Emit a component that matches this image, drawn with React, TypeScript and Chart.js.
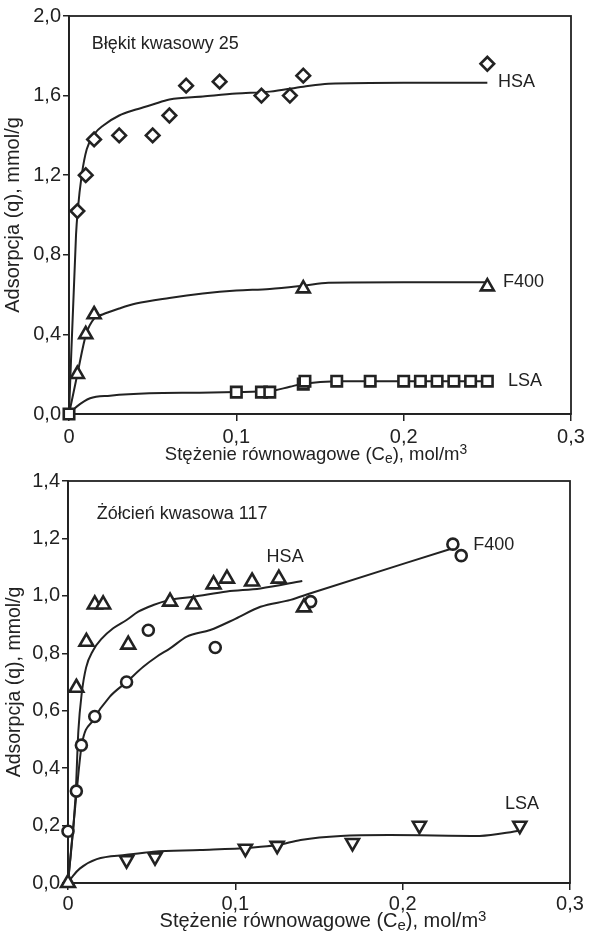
import React, { useEffect, useRef } from 'react';
import { Chart, registerables } from 'chart.js';

Chart.register(...registerables);

const FONT = "'Liberation Sans', Arial, Helvetica, sans-serif";
const INK = '#222222';

// ---------- shared axis ticks ----------
const xTickValues = [0, 0.1, 0.2, 0.3];
const xTickLabels = ['0', '0,1', '0,2', '0,3'];

// ---------- top panel: Błękit kwasowy 25 ----------
const blueYTickValues = [0, 0.4, 0.8, 1.2, 1.6, 2.0];
const blueYTickLabels = ['0,0', '0,4', '0,8', '1,2', '1,6', '2,0'];

const blueHsaX = [0.005, 0.010, 0.015, 0.030, 0.050, 0.060, 0.070, 0.090, 0.115, 0.132, 0.140, 0.250];
const blueHsaY = [1.02, 1.20, 1.38, 1.40, 1.40, 1.50, 1.65, 1.67, 1.60, 1.60, 1.70, 1.76];
const blueF400X = [0.005, 0.010, 0.015, 0.140, 0.250];
const blueF400Y = [0.20, 0.40, 0.50, 0.63, 0.64];
const blueLsaX = [0, 0.100, 0.115, 0.120, 0.140, 0.141, 0.160, 0.180, 0.200, 0.210, 0.220, 0.230, 0.240, 0.250];
const blueLsaY = [0, 0.11, 0.11, 0.11, 0.15, 0.165, 0.165, 0.165, 0.165, 0.165, 0.165, 0.165, 0.165, 0.165];

const blueHsaFitX = [0, 0.0042, 0.0052, 0.0076, 0.0106, 0.0155, 0.0205, 0.030, 0.040, 0.050, 0.060, 0.080, 0.100, 0.120, 0.140, 0.155, 0.200, 0.250];
const blueHsaFitY = [0, 0.90, 1.02, 1.20, 1.33, 1.41, 1.45, 1.50, 1.53, 1.555, 1.58, 1.595, 1.61, 1.62, 1.645, 1.66, 1.665, 1.665];
const blueF400FitX = [0, 0.005, 0.0102, 0.0151, 0.020, 0.030, 0.040, 0.060, 0.080, 0.100, 0.120, 0.140, 0.155, 0.200, 0.250];
const blueF400FitY = [0, 0.20, 0.40, 0.48, 0.50, 0.53, 0.555, 0.583, 0.605, 0.62, 0.628, 0.645, 0.66, 0.662, 0.662];
const blueLsaFitX = [0, 0.0046, 0.0126, 0.0245, 0.048, 0.078, 0.100, 0.120, 0.132, 0.140, 0.160, 0.200, 0.250];
const blueLsaFitY = [0, 0.037, 0.079, 0.092, 0.104, 0.107, 0.11, 0.115, 0.137, 0.152, 0.165, 0.165, 0.165];

// ---------- bottom panel: Żółcień kwasowa 117 ----------
const yellowYTickValues = [0, 0.2, 0.4, 0.6, 0.8, 1.0, 1.2, 1.4];
const yellowYTickLabels = ['0,0', '0,2', '0,4', '0,6', '0,8', '1,0', '1,2', '1,4'];

const yellowHsaX = [0, 0.005, 0.011, 0.016, 0.021, 0.036, 0.061, 0.075, 0.087, 0.095, 0.110, 0.126, 0.141];
const yellowHsaY = [0, 0.68, 0.84, 0.97, 0.97, 0.83, 0.98, 0.97, 1.04, 1.06, 1.05, 1.06, 0.96];
const yellowF400X = [0, 0.005, 0.008, 0.016, 0.035, 0.048, 0.088, 0.145, 0.230, 0.235];
const yellowF400Y = [0.18, 0.32, 0.48, 0.58, 0.70, 0.88, 0.82, 0.98, 1.18, 1.14];
const yellowLsaX = [0.035, 0.052, 0.106, 0.125, 0.170, 0.210, 0.270];
const yellowLsaY = [0.08, 0.09, 0.12, 0.13, 0.14, 0.20, 0.20];

const yellowHsaFitX = [0, 0.0045, 0.0062, 0.0082, 0.0108, 0.015, 0.020, 0.027, 0.035, 0.042, 0.051, 0.061, 0.075, 0.095, 0.115, 0.140];
const yellowHsaFitY = [0, 0.30, 0.53, 0.66, 0.75, 0.81, 0.85, 0.887, 0.916, 0.945, 0.968, 0.986, 0.997, 1.015, 1.026, 1.052];
const yellowF400FitX = [0, 0.0052, 0.0082, 0.0151, 0.025, 0.035, 0.045, 0.053, 0.061, 0.071, 0.085, 0.100, 0.115, 0.133, 0.145, 0.230];
const yellowF400FitY = [0, 0.32, 0.48, 0.568, 0.649, 0.70, 0.753, 0.788, 0.817, 0.858, 0.881, 0.92, 0.962, 0.986, 1.009, 1.166];
const yellowLsaFitX = [0, 0.003, 0.0072, 0.0172, 0.035, 0.051, 0.079, 0.109, 0.125, 0.139, 0.163, 0.192, 0.246, 0.270];
const yellowLsaFitY = [0, 0.025, 0.051, 0.083, 0.098, 0.109, 0.115, 0.123, 0.132, 0.150, 0.164, 0.167, 0.164, 0.182];

// ---------- texts ----------
const yTitle = 'Adsorpcja (q), mmol/g';
const xTitleParts = [
  { t: 'Stężenie równowagowe (C', scale: 1, shift: 0 },
  { t: 'e', scale: 0.75, shift: 0.17 },
  { t: '), mol/m', scale: 1, shift: 0 },
  { t: '3', scale: 0.75, shift: -0.3 },
];

type Note = { text: string; x: number; y: number };
const blueNotes: Note[] = [
  { text: 'Błękit kwasowy 25', x: 0.0136, y: 1.858 },
  { text: 'HSA', x: 0.2564, y: 1.666 },
  { text: 'F400', x: 0.2594, y: 0.661 },
  { text: 'LSA', x: 0.2624, y: 0.167 },
];
const yellowNotes: Note[] = [
  { text: 'Żółcień kwasowa 117', x: 0.0172, y: 1.284 },
  { text: 'HSA', x: 0.1187, y: 1.134 },
  { text: 'F400', x: 0.2422, y: 1.178 },
  { text: 'LSA', x: 0.2612, y: 0.275 },
];

const zip = (xs: number[], ys: number[]) => xs.map((x, i) => ({ x, y: ys[i] }));

type PanelSpec = {
  yMax: number;
  yTickValues: number[];
  yTickLabels: string[];
  fits: { xs: number[]; ys: number[] }[];
  points: { xs: number[]; ys: number[]; style: string; radius: number; rotation: number }[];
  notes: Note[];
  padTop: number;
  padRight: number;
  yAxisWidth: number;
  xAxisHeight: number;
  xTickPad: number;
  yTitleSize: number;
  yTitlePad: number;
  xTitleSize: number;
  xTitleDrop: number;
  xTitleShift: number;
};

const W = 589;
const H = 466;

const topSpec: PanelSpec = {
  yMax: 2.0,
  yTickValues: blueYTickValues,
  yTickLabels: blueYTickLabels,
  fits: [
    { xs: blueHsaFitX, ys: blueHsaFitY },
    { xs: blueF400FitX, ys: blueF400FitY },
    { xs: blueLsaFitX, ys: blueLsaFitY },
  ],
  points: [
    { xs: blueHsaX, ys: blueHsaY, style: 'rectRot', radius: 6.8, rotation: 0 },
    { xs: blueF400X, ys: blueF400Y, style: 'triangle', radius: 7.5, rotation: 0 },
    { xs: blueLsaX, ys: blueLsaY, style: 'rect', radius: 7.4, rotation: 0 },
  ],
  notes: blueNotes,
  padTop: 16,
  padRight: 18,
  yAxisWidth: 69,
  xAxisHeight: H - 414,
  xTickPad: 4,
  yTitleSize: 20,
  yTitlePad: 1,
  xTitleSize: 18.5,
  xTitleDrop: 46,
  xTitleShift: -4,
};

const bottomSpec: PanelSpec = {
  yMax: 1.4,
  yTickValues: yellowYTickValues,
  yTickLabels: yellowYTickLabels,
  fits: [
    { xs: yellowHsaFitX, ys: yellowHsaFitY },
    { xs: yellowF400FitX, ys: yellowF400FitY },
    { xs: yellowLsaFitX, ys: yellowLsaFitY },
  ],
  points: [
    { xs: yellowHsaX, ys: yellowHsaY, style: 'triangle', radius: 8, rotation: 0 },
    { xs: yellowF400X, ys: yellowF400Y, style: 'circle', radius: 5.5, rotation: 0 },
    { xs: yellowLsaX, ys: yellowLsaY, style: 'triangle', radius: 7.5, rotation: 180 },
  ],
  notes: yellowNotes,
  padTop: 15,
  padRight: 19,
  yAxisWidth: 68,
  xAxisHeight: H - 417,
  xTickPad: 2,
  yTitleSize: 19.5,
  yTitlePad: 3,
  xTitleSize: 20,
  xTitleDrop: 44,
  xTitleShift: 4,
};

function makeDecor(spec: PanelSpec) {
  return {
    id: 'decor',
    beforeDatasetsDraw(chart: any) {
      const { ctx, chartArea } = chart;
      ctx.save();
      ctx.strokeStyle = INK;
      ctx.lineWidth = 1.8;
      ctx.strokeRect(chartArea.left, chartArea.top, chartArea.right - chartArea.left, chartArea.bottom - chartArea.top);
      ctx.restore();
    },
    afterDraw(chart: any) {
      const { ctx, chartArea } = chart;
      const xs = chart.scales.x;
      const ys = chart.scales.y;
      ctx.save();
      ctx.fillStyle = INK;
      ctx.textAlign = 'left';
      ctx.textBaseline = 'middle';
      ctx.font = `18px ${FONT}`;
      for (const n of spec.notes) {
        ctx.fillText(n.text, xs.getPixelForValue(n.x), ys.getPixelForValue(n.y));
      }
      // x-axis title with subscript / superscript
      ctx.textBaseline = 'alphabetic';
      const base = spec.xTitleSize;
      let total = 0;
      const widths = xTitleParts.map((p) => {
        ctx.font = `${base * p.scale}px ${FONT}`;
        const w = ctx.measureText(p.t).width;
        total += w;
        return w;
      });
      let cx = (chartArea.left + chartArea.right) / 2 - total / 2 + spec.xTitleShift;
      const by = chartArea.bottom + spec.xTitleDrop;
      xTitleParts.forEach((p, i) => {
        ctx.font = `${base * p.scale}px ${FONT}`;
        ctx.fillText(p.t, cx, by + p.shift * base);
        cx += widths[i];
      });
      ctx.restore();
    },
  };
}

function buildConfig(spec: PanelSpec): any {
  const datasets: any[] = [];
  spec.points.forEach((p) => {
    datasets.push({
      type: 'scatter',
      data: zip(p.xs, p.ys),
      pointStyle: p.style,
      pointRadius: p.radius,
      pointRotation: p.rotation,
      pointBackgroundColor: '#ffffff',
      pointBorderColor: INK,
      pointBorderWidth: 2.6,
      showLine: false,
      order: 0,
      clip: false,
    });
  });
  spec.fits.forEach((f) => {
    datasets.push({
      type: 'line',
      data: zip(f.xs, f.ys),
      borderColor: INK,
      borderWidth: 2,
      pointRadius: 0,
      fill: false,
      cubicInterpolationMode: 'monotone',
      order: 1,
    });
  });

  return {
    type: 'scatter',
    data: { datasets },
    options: {
      animation: false,
      responsive: false,
      devicePixelRatio: 1,
      events: [],
      layout: { padding: { top: spec.padTop, right: spec.padRight, left: 0, bottom: 0 } },
      plugins: { legend: { display: false }, tooltip: { enabled: false } },
      scales: {
        x: {
          type: 'linear',
          min: 0,
          max: 0.3,
          afterBuildTicks: (s: any) => {
            s.ticks = xTickValues.map((v) => ({ value: v }));
          },
          afterFit: (s: any) => {
            s.height = spec.xAxisHeight;
          },
          ticks: {
            callback: (_v: any, i: number) => xTickLabels[i],
            font: { family: FONT, size: 20 },
            color: INK,
            padding: spec.xTickPad,
            maxRotation: 0,
            autoSkip: false,
          },
          grid: { drawOnChartArea: false, drawTicks: true, tickLength: 7, color: INK, lineWidth: 1.5 },
          border: { display: true, color: INK, width: 1.8 },
        },
        y: {
          type: 'linear',
          min: 0,
          max: spec.yMax,
          afterBuildTicks: (s: any) => {
            s.ticks = spec.yTickValues.map((v) => ({ value: v }));
          },
          afterFit: (s: any) => {
            s.width = spec.yAxisWidth;
          },
          ticks: {
            callback: (_v: any, i: number) => spec.yTickLabels[i],
            font: { family: FONT, size: 20 },
            color: INK,
            padding: 2,
            autoSkip: false,
          },
          grid: { drawOnChartArea: false, drawTicks: true, tickLength: 6, color: INK, lineWidth: 1.5 },
          border: { display: true, color: INK, width: 1.8 },
          title: {
            display: true,
            text: yTitle,
            font: { family: FONT, size: spec.yTitleSize },
            color: INK,
            padding: { top: spec.yTitlePad, bottom: 0 },
          },
        },
      },
    },
    plugins: [makeDecor(spec)],
  };
}

function Panel({ spec, top }: { spec: PanelSpec; top: number }) {
  const ref = useRef<HTMLCanvasElement>(null);
  useEffect(() => {
    const chart = new Chart(ref.current as HTMLCanvasElement, buildConfig(spec));
    return () => chart.destroy();
  }, [spec]);
  return (
    <canvas
      ref={ref}
      width={W}
      height={H}
      style={{ position: 'absolute', left: 0, top, width: W, height: H, display: 'block' }}
    />
  );
}

export default function App() {
  return (
    <div style={{ position: 'absolute', left: 0, top: 0, width: 589, height: 932, background: '#ffffff', overflow: 'hidden' }}>
      <Panel spec={topSpec} top={0} />
      <Panel spec={bottomSpec} top={466} />
    </div>
  );
}
